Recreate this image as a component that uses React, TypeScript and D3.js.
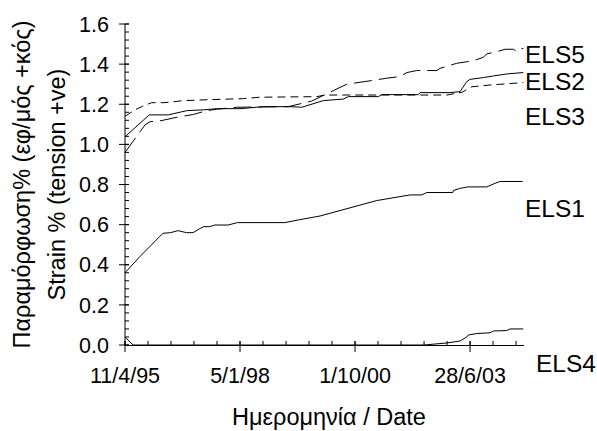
import React from "react";
import * as d3 from "d3";

// ---- data ----
const els1Dates = ["1995-04-11","1995-08-17","1996-03-06","1996-05-12","1996-07-15","1996-09-25","1996-11-22","1997-01-20","1997-02-26","1997-04-17","1997-05-30","1997-09-23","1997-12-13","1999-01-29","1999-05-24","1999-12-02","2001-04-08","2002-01-22","2002-05-04","2002-06-17","2003-01-29","2003-02-03","2003-03-27","2003-06-08","2003-11-20","2004-02-01","2004-03-15","2004-09-28"];
const els1Values = [0.36,0.44,0.557,0.56,0.57,0.56,0.56,0.58,0.59,0.59,0.598,0.598,0.61,0.61,0.623,0.643,0.72,0.748,0.748,0.76,0.76,0.77,0.78,0.788,0.788,0.806,0.815,0.815];

const els2Dates = ["1995-04-11","1995-11-08","1996-04-22","1996-09-29","1997-02-20","1997-06-16","1998-01-05","1998-07-27","1999-03-16","1999-06-26","1999-12-30","2000-06-21","2000-08-04","2001-04-22","2001-05-21","2002-04-05","2002-04-19","2003-01-05","2003-04-02","2003-05-30","2003-06-28","2003-10-22","2004-01-17","2004-05-12","2004-10-03"];
const els2Values = [1.038,1.147,1.147,1.168,1.172,1.178,1.178,1.188,1.188,1.185,1.218,1.226,1.238,1.238,1.248,1.248,1.258,1.258,1.263,1.313,1.324,1.333,1.341,1.351,1.358];

const els3Dates = ["1995-04-11","1995-07-07","1995-09-03","1995-11-29","1996-03-24","1996-08-30","1997-04-19","1998-02-03","1998-06-28","1999-11-03","2000-01-14","2002-12-07","2003-04-20","2003-07-13","2003-12-19","2004-06-10","2004-10-03"];
const els3Values = [1.14,1.172,1.188,1.208,1.208,1.218,1.223,1.228,1.235,1.238,1.246,1.246,1.26,1.287,1.296,1.303,1.308];

const els4Dates = ["1995-04-11","1995-06-20","2002-05-24","2002-12-07","2003-04-02","2003-05-30","2003-06-13","2003-08-25","2003-12-19","2004-01-17","2004-05-12","2004-06-10","2004-10-03"];
const els4Values = [0.04,0.0,0.0,0.01,0.02,0.04,0.05,0.057,0.061,0.07,0.072,0.08,0.08];

const els5Dates = ["1995-04-11","1995-10-02","1995-11-14","1996-02-09","1996-07-04","1996-11-25","1997-03-21","1997-06-16","1997-12-07","1999-03-01","1999-09-21","2000-03-26","2000-07-21","2001-02-23","2001-07-04","2001-10-27","2001-12-25","2002-03-22","2002-09-12","2002-10-10","2003-03-04","2003-07-27","2003-10-22","2003-11-20","2004-02-15","2004-04-27","2004-07-09","2004-08-07","2004-09-05","2004-10-03"];
const els5Values = [0.96,1.097,1.113,1.117,1.135,1.149,1.168,1.175,1.185,1.188,1.216,1.268,1.30,1.318,1.33,1.338,1.358,1.368,1.368,1.379,1.404,1.417,1.434,1.451,1.462,1.474,1.474,1.462,1.474,1.479];

const seriesNames = ["ELS1", "ELS2", "ELS3", "ELS4", "ELS5"];
const labelValues = [0.638, 1.271, 1.097, -0.135, 1.406]; // label baselines in strain units

const xDomainDates = ["1995-04-11", "2004-10-09"];
const xMajorTickDates = ["1995-04-11", "1998-01-05", "2000-10-01", "2003-06-28"];
const xTickLabels = ["11/4/95", "5/1/98", "1/10/00", "28/6/03"];
const yTickValues = [0, 0.2, 0.4, 0.6, 0.8, 1.0, 1.2, 1.4, 1.6];
const yTickLabels = ["0.0", "0.2", "0.4", "0.6", "0.8", "1.0", "1.2", "1.4", "1.6"];

const yTitle1 = "Παραμόρφωση% (εφ/μός +κός)";
const yTitle2 = "Strain % (tension +ve)";
const xTitle = "Ημερομηνία / Date";

const parse = d3.utcParse("%Y-%m-%d");

export default function App() {
  const W = 597, H = 431;
  const x = d3.scaleUtc()
    .domain(xDomainDates.map((s) => parse(s) as Date))
    .range([125, 524]);
  const y = d3.scaleLinear().domain([0, 1.6]).range([345, 24]);

  const start = parse(xDomainDates[0]) as Date;
  const end = parse(xDomainDates[1]) as Date;
  const minorX: Date[] = [];
  for (let k = 0; ; k++) {
    const d = d3.utcDay.offset(start, 200 * k);
    if (d > end) break;
    minorX.push(d);
  }
  const minorY = d3.range(0, 1.6001, 0.04);

  const series = [
    { dates: els1Dates, values: els1Values, dash: undefined },
    { dates: els2Dates, values: els2Values, dash: undefined },
    { dates: els3Dates, values: els3Values, dash: "8,5" },
    { dates: els4Dates, values: els4Values, dash: undefined },
    { dates: els5Dates, values: els5Values, dash: "18,7" },
  ];

  const line = d3.line<[Date, number]>()
    .x((d) => x(d[0]))
    .y((d) => y(d[1]));

  const font = "'Liberation Sans', Arial, sans-serif";
  const x0 = x.range()[0];
  const x1 = x.range()[1];
  const yBase = y(0);

  return (
    <svg width={W} height={H} style={{ position: "absolute", left: 0, top: 0, background: "#fff" }} fontFamily={font}>
      <rect width={W} height={H} fill="#fff" />
      {/* series */}
      {series.map((s, i) => (
        <path
          key={i}
          d={line(s.dates.map((dd, j) => [parse(dd) as Date, s.values[j]])) || ""}
          fill="none"
          stroke="#000"
          strokeWidth={1}
          strokeDasharray={s.dash}
        />
      ))}
      {/* y axis */}
      <line x1={x0} x2={x0} y1={y(1.6)} y2={yBase} stroke="#000" strokeWidth={1} />
      {minorY.map((v, i) => (
        <line key={"my" + i} x1={x0} x2={x0 + 4} y1={y(v)} y2={y(v)} stroke="#000" strokeWidth={1} />
      ))}
      {yTickValues.map((v, i) => (
        <g key={"yt" + i}>
          <line x1={x0 - 6} x2={x0 + 4} y1={y(v)} y2={y(v)} stroke="#000" strokeWidth={1} />
          <text x={109} y={y(v)} dy="0.36em" textAnchor="end" fontSize={21.5}>{yTickLabels[i]}</text>
        </g>
      ))}
      {/* x axis */}
      <line x1={x0} x2={x1} y1={yBase + 0.5} y2={yBase + 0.5} stroke="#000" strokeWidth={1} />
      {minorX.map((d, i) => (
        <line key={"mx" + i} x1={x(d)} x2={x(d)} y1={yBase - 4} y2={yBase} stroke="#000" strokeWidth={1} />
      ))}
      {xMajorTickDates.map((s, i) => {
        const px = x(parse(s) as Date);
        return (
          <g key={"xt" + i}>
            <line x1={px} x2={px} y1={yBase - 4} y2={yBase + 7} stroke="#000" strokeWidth={1} />
            <text x={px} y={383} textAnchor="middle" fontSize={21.5}>{xTickLabels[i]}</text>
          </g>
        );
      })}
      {/* series labels */}
      {seriesNames.map((n, i) => (
        <text key={"lb" + i} x={n === "ELS4" ? x1 + 12 : x1 + 1} y={y(labelValues[i])} fontSize={24.5}>{n}</text>
      ))}
      {/* titles */}
      <text transform={`translate(30,${(y(1.6) + yBase) / 2}) rotate(-90)`} textAnchor="middle" fontSize={23.5}>{yTitle1}</text>
      <text transform={`translate(65,${(y(1.6) + yBase) / 2}) rotate(-90)`} textAnchor="middle" fontSize={23.5}>{yTitle2}</text>
      <text x={329} y={424.5} textAnchor="middle" fontSize={23.5}>{xTitle}</text>
    </svg>
  );
}
